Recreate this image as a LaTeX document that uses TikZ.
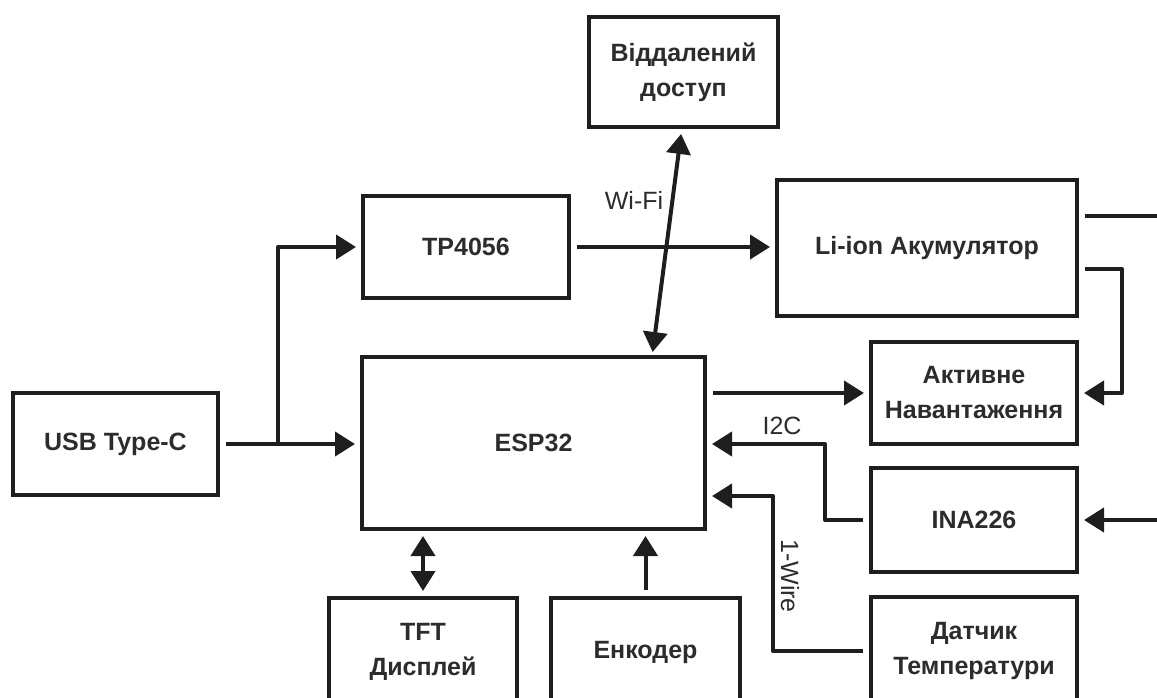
\documentclass[tikz,border=0pt]{standalone}
\usepackage{fontspec}
\setmainfont{Liberation Sans}
\usetikzlibrary{arrows.meta,calc}
\definecolor{ln}{HTML}{1E1E1E}
\definecolor{tx}{HTML}{2C2C2C}
\begin{document}
\begin{tikzpicture}[x=1pt,y=-1pt,
  box/.style={draw=ln,line width=4pt,rectangle,inner sep=0pt,align=center,text=tx,
    font=\fontsize{25}{35}\selectfont\bfseries},
  tip/.tip={Triangle[length=20pt,width=24pt]},
  arr/.style={draw=ln,line width=4pt,line join=round,-tip,shorten >=5pt,shorten <=6pt},
  dbl/.style={draw=ln,line width=4pt,line join=round,tip-tip,shorten >=5pt,shorten <=5pt},
  wire/.style={draw=ln,line width=4pt,line join=round,shorten <=6pt},
  lbl/.style={text=tx,font=\fontsize{25}{30}\selectfont,inner sep=0pt}]
\useasboundingbox (0,0) rectangle (1157,698);
\clip (0,0) rectangle (1157,698);

% boxes
\node[box,minimum width=189pt,minimum height=110pt] (remote) at (683.5,72) {Віддалений\\доступ};
\node[box,minimum width=206pt,minimum height=102pt] (tp) at (466,247) {TP4056};
\node[box,minimum width=300pt,minimum height=136pt] (li) at (927,248) {Li-ion Акумулятор};
\node[box,minimum width=343pt,minimum height=172pt] (esp) at (533.5,443) {ESP32};
\node[box,minimum width=205pt,minimum height=102pt] (usb) at (115.5,444) {USB Type-C};
\node[box,minimum width=206pt,minimum height=102pt] (load) at (974,393) {Активне\\Навантаження};
\node[box,minimum width=206pt,minimum height=104pt] (ina) at (974,520) {INA226};
\node[box,minimum width=206pt,minimum height=108pt] (temp) at (974,651) {Датчик\\Температури};
\node[box,minimum width=188pt,minimum height=108pt] (tft) at (423,652) {TFT\\Дисплей};
\node[box,minimum width=189pt,minimum height=108pt] (enc) at (645.5,652) {Енкодер};

% coordinates
\coordinate (j) at (278,444);
\coordinate (wa) at (682,127);
\coordinate (wb) at (652,357);
\coordinate (offLi) at (1170,216);
\coordinate (offIna) at (1170,520);

% USB -> ESP32 and TP4056
\draw[arr] (usb.east) -- (usb.east -| esp.west);
\draw[arr,shorten <=0pt] (j) |- (tp.west);
% TP4056 -> Li-ion
\draw[arr] (tp.east) -- (tp.east -| li.west);
% Wi-Fi
\draw[dbl,shorten <=7pt] (wa) -- (wb);
\node[lbl] (wifi) at (634,200) {Wi-Fi};
% Li-ion outputs
\draw[wire] ($(li.east)+(0,-32)$) -- (offLi);
\draw[arr] ($(li.east)+(0,21)$) -- ++(43,0) |- (load.east);
% ESP32 -> Active load
\draw[arr] (esp.east |- load.west) -- (load.west);
% INA226 input
\draw[arr,shorten <=0pt] (offIna) -- (ina.east);
% I2C
\draw[arr] (ina.west) -- (825,520) -- (825,444) -- (esp.east |- 0,444);
\node[lbl] (i2c) at (782,426) {I2C};
% 1-Wire
\draw[arr] (temp.west) -- (773,651) -- (773,496) -- (esp.east |- 0,496);
\node[lbl,rotate=-90] (ow) at (790,576) {1-Wire};
% TFT and encoder
\draw[dbl] (tft.north) -- (tft.north |- esp.south);
\draw[arr] (enc.north) -- (enc.north |- esp.south);
\end{tikzpicture}
\end{document}
